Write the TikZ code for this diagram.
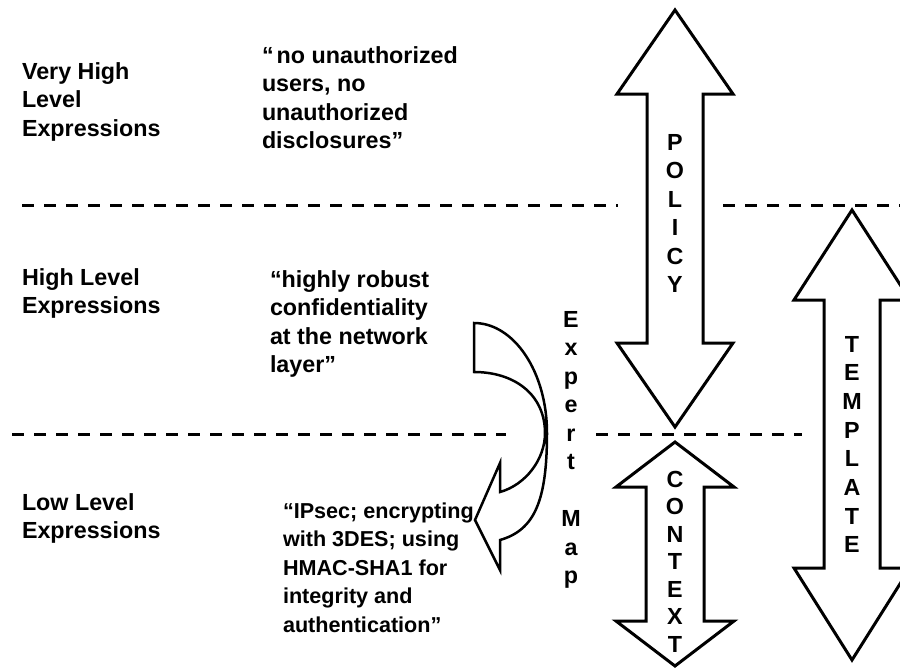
\documentclass[tikz,border=0pt]{standalone}
\usepackage{fontspec}
\setmainfont{Liberation Sans}
\begin{document}
\begin{tikzpicture}[x=1pt,y=-1pt,
  lbl/.style={anchor=base west, inner sep=0pt, outer sep=0pt, align=left, font=\bfseries\fontsize{23.3}{28.5}\selectfont},
  col/.style={anchor=base, inner sep=0pt, outer sep=0pt, align=center, font=\bfseries\fontsize{23.3}{#1}\selectfont},
  arr/.style={draw=black, line width=3pt, fill=white, line join=miter},
  curv/.style={draw=black, line width=2.5pt, fill=white, line join=miter},
  sep/.style={draw=black, line width=3pt, dash pattern=on 12pt off 10pt}]
\useasboundingbox (0,0) rectangle (900,667);

% separators
\coordinate (s1a) at (22,205);  \coordinate (s1b) at (618,205);
\coordinate (s2a) at (723,205); \coordinate (s2b) at (900,205);
\coordinate (s3a) at (12,434);  \coordinate (s3b) at (506,434);
\coordinate (s4a) at (596,434); \coordinate (s4b) at (802,434);
\draw[sep] (s1a) -- (s1b);
\draw[sep] (s2a) -- (s2b);
\draw[sep] (s3a) -- (s3b);
\draw[sep] (s4a) -- (s4b);

% POLICY arrow
\draw[arr] (675,10) -- (733,94) -- (703,94) -- (703,343) -- (733,343) -- (675,427)
  -- (617,343) -- (647,343) -- (647,94) -- (617,94) -- cycle;
% CONTEXT arrow
\draw[arr] (675,442) -- (734,487) -- (704,487) -- (704,621) -- (734,621) -- (675,666)
  -- (616,621) -- (646,621) -- (646,487) -- (616,487) -- cycle;
% TEMPLATE arrow
\draw[arr] (852,210) -- (910,300) -- (880,300) -- (880,568) -- (910,568) -- (852,660)
  -- (794,568) -- (824,568) -- (824,300) -- (794,300) -- cycle;

% curved expert-map arrow
\draw[curv] (474,323) .. controls (514,323) and (547,372) .. (547,433)
  .. controls (547,500) and (535,530) .. (500,540) -- (500,570) -- (475,520)
  -- (500,463) -- (500,492) .. controls (525,485) and (545,460) .. (545,433)
  .. controls (545,395) and (515,372) .. (474,372) -- cycle;

% left labels (anchored at the baseline of the last line)
\node[lbl] (vh) at (22,136) {Very High\\Level\\Expressions};
\node[lbl] (hl) at (22,313.5) {High Level\\Expressions};
\node[lbl] (ll) at (22,538.5) {Low Level\\Expressions};

% quotes
\node[lbl] (q1) at (262,148.5) {“\kern3pt no unauthorized\\users, no\\unauthorized\\disclosures”};
\node[lbl] (q2) at (270,372.5) {“highly robust\\confidentiality\\at the network\\layer”};
\node[lbl, font=\bfseries\fontsize{21.6}{28.5}\selectfont] (q3) at (283,632) {“IPsec; encrypting\\with 3DES; using\\HMAC-SHA1 for\\integrity and\\authentication”};

% vertical words
\node[col=28.5] (pol) at (675,292.5) {P\\O\\L\\I\\C\\Y};
\node[col=27.5] (ctx) at (675,652) {C\\O\\N\\T\\E\\X\\T};
\node[col=28.7] (tpl) at (852,552.9) {T\\E\\M\\P\\L\\A\\T\\E};
\node[col=28.5] (exm) at (571,583.5) {E\\x\\p\\e\\r\\t\\[28.5pt]M\\a\\p};
\end{tikzpicture}
\end{document}
